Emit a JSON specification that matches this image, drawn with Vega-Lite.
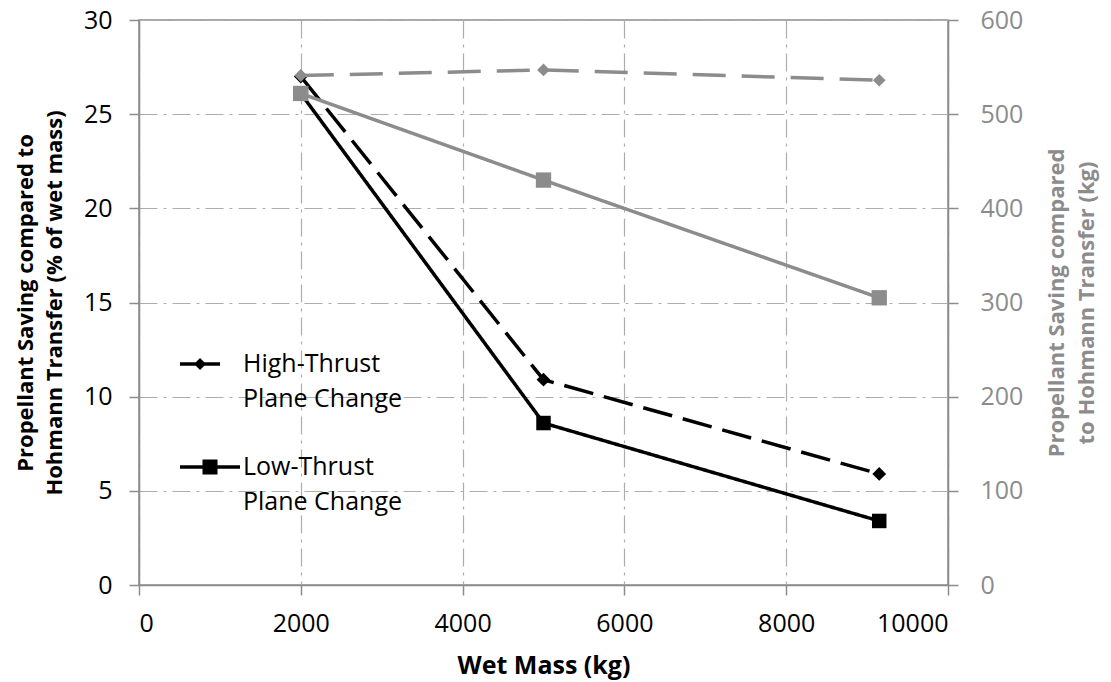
{
  "$schema": "https://vega.github.io/schema/vega-lite/v6.json",
  "width": 809,
  "height": 565,
  "autosize": {"type": "none"},
  "padding": {"left": 139, "top": 20, "right": 163, "bottom": 97},
  "background": "white",
  "config": {
    "font": "Open Sans",
    "view": {"stroke": "#8c8c8c", "strokeWidth": 1.5},
    "axis": {
      "labelFont": "Open Sans",
      "titleFont": "Open Sans",
      "labelFontSize": 25,
      "titleFontSize": 22,
      "titleFontWeight": "bold",
      "labelColor": "#000000",
      "titleColor": "#000000",
      "domainColor": "#8c8c8c",
      "domainWidth": 1.5,
      "tickColor": "#8c8c8c",
      "tickWidth": 1.5,
      "tickSize": 10,
      "gridColor": "#adadad",
      "gridWidth": 1.2,
      "gridDash": [18, 6, 3, 6]
    },
    "legend": {"labelFont": "Open Sans"}
  },
  "datasets": {
    "black": [
      {"series": "High-Thrust", "mass": 2000, "pct": 27.0},
      {"series": "High-Thrust", "mass": 5000, "pct": 10.9},
      {"series": "High-Thrust", "mass": 9150, "pct": 5.9},
      {"series": "Low-Thrust", "mass": 2000, "pct": 26.1},
      {"series": "Low-Thrust", "mass": 5000, "pct": 8.6},
      {"series": "Low-Thrust", "mass": 9150, "pct": 3.4}
    ],
    "gray": [
      {"series": "High", "mass": 2000, "kg": 541},
      {"series": "High", "mass": 5000, "kg": 547},
      {"series": "High", "mass": 9150, "kg": 536},
      {"series": "Low", "mass": 2000, "kg": 522},
      {"series": "Low", "mass": 5000, "kg": 430},
      {"series": "Low", "mass": 9150, "kg": 305}
    ]
  },
  "encoding": {
    "x": {
      "field": "mass",
      "type": "quantitative",
      "scale": {"domain": [0, 10000], "nice": false},
      "axis": {
        "title": "Wet Mass (kg)",
        "values": [0, 2000, 4000, 6000, 8000, 10000],
        "format": "d",
        "labelPadding": 16,
        "titlePadding": 17,
        "titleFontSize": 25
      }
    }
  },
  "layer": [
    {
      "data": {"name": "black"},
      "encoding": {
        "y": {
          "field": "pct",
          "type": "quantitative",
          "scale": {"domain": [0, 30], "nice": false},
          "axis": {
            "orient": "left",
            "title": ["Propellant Saving compared to", "Hohmann Transfer (% of wet mass)"],
            "values": [0, 5, 10, 15, 20, 25, 30],
            "labelPadding": 17,
            "titlePadding": 17,
            "titleLineHeight": 29
          }
        }
      },
      "layer": [
        {
          "mark": {"type": "line", "color": "#000000", "strokeWidth": 3.5},
          "encoding": {
            "strokeDash": {
              "field": "series",
              "type": "nominal",
              "scale": {"domain": ["High-Thrust", "Low-Thrust"], "range": [[30, 11], [1, 0]]},
              "legend": null
            }
          }
        },
        {
          "transform": [{"filter": "datum.series == 'High-Thrust'"}],
          "mark": {"type": "point", "shape": "diamond", "filled": true, "color": "#000000", "size": 190, "opacity": 1}
        },
        {
          "transform": [{"filter": "datum.series == 'Low-Thrust'"}],
          "mark": {"type": "point", "shape": "square", "filled": true, "color": "#000000", "size": 210, "opacity": 1}
        },
        {
          "mark": {"type": "point", "filled": true, "color": "#000000", "opacity": 0},
          "encoding": {
            "shape": {
              "field": "series",
              "type": "nominal",
              "scale": {
                "domain": ["High-Thrust", "Low-Thrust"],
                "range": [
                  "M0,-1L0,1 M-1,-0.058H0.333V0.058H-1Z M-0.333,-0.2L-0.133,0L-0.333,0.2L-0.533,0Z",
                  "M0,-1L0,1 M-1,-0.058H1V0.058H-1Z M-0.25,-0.25H0.25V0.25H-0.25Z"
                ]
              },
              "legend": {
                "title": null,
                "orient": "none",
                "legendX": 41,
                "legendY": 314,
                "padding": 0,
                "symbolSize": 3600,
                "symbolOpacity": 1,
                "symbolFillColor": "#000000",
                "symbolStrokeColor": "#000000",
                "symbolStrokeWidth": 0,
                "labelFontSize": 25,
                "labelColor": "#000000",
                "labelOffset": 3,
                "labelBaseline": "middle",
                "labelLimit": 400,
                "rowPadding": 43
              }
            }
          }
        }
      ]
    },
    {
      "data": {"name": "gray"},
      "encoding": {
        "y": {
          "field": "kg",
          "type": "quantitative",
          "scale": {"domain": [0, 600], "nice": false},
          "axis": {
            "orient": "right",
            "title": ["Propellant Saving compared", "to Hohmann Transfer (kg)"],
            "values": [0, 100, 200, 300, 400, 500, 600],
            "grid": false,
            "labelColor": "#8c8c8c",
            "titleColor": "#8c8c8c",
            "labelPadding": 22,
            "titlePadding": 16,
            "titleAngle": 270,
            "titleLineHeight": 30
          }
        }
      },
      "layer": [
        {
          "mark": {"type": "line", "color": "#8c8c8c", "strokeWidth": 3.5},
          "encoding": {
            "strokeDash": {
              "field": "series",
              "type": "nominal",
              "scale": {"domain": ["High", "Low"], "range": [[33, 16], [1, 0]]},
              "legend": null
            }
          }
        },
        {
          "transform": [{"filter": "datum.series == 'High'"}],
          "mark": {"type": "point", "shape": "diamond", "filled": true, "color": "#8c8c8c", "size": 160, "opacity": 1}
        },
        {
          "transform": [{"filter": "datum.series == 'Low'"}],
          "mark": {"type": "point", "shape": "square", "filled": true, "color": "#8c8c8c", "size": 235, "opacity": 1}
        },
        {
          "mark": {"type": "point", "filled": true, "opacity": 0},
          "encoding": {
            "fill": {
              "field": "series",
              "type": "nominal",
              "scale": {"domain": ["High", "Low"], "range": ["#ffffff", "#ffffff"]},
              "legend": {
                "title": null,
                "orient": "none",
                "legendX": 41,
                "legendY": 349,
                "padding": 0,
                "symbolType": "square",
                "symbolSize": 3600,
                "symbolOpacity": 0,
                "symbolStrokeWidth": 0,
                "labelFontSize": 25,
                "labelColor": "#000000",
                "labelOffset": 3,
                "labelBaseline": "middle",
                "labelLimit": 400,
                "labelExpr": "'Plane Change'",
                "rowPadding": 43
              }
            }
          }
        }
      ]
    }
  ],
  "resolve": {"scale": {"y": "independent", "strokeDash": "independent"}}
}
